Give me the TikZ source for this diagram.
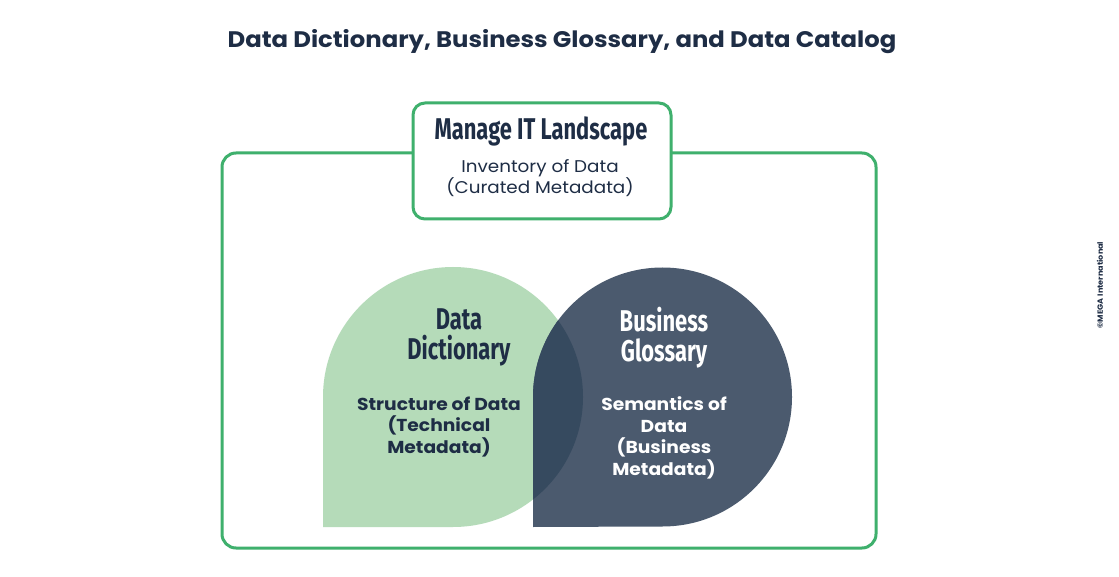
\documentclass[tikz,border=0pt]{standalone}
\usepackage{fontspec}
\setmainfont[FakeStretch=1.08]{Poppins}
\newfontfamily\headfont[FakeStretch=0.73]{Fira Sans}
\begin{document}
\begin{tikzpicture}[x=1pt,y=-1pt,
  navy/.style={text=textnavy},
  frame/.style={draw=framegreen,line width=3pt,rounded corners=14pt},
  head/.style={font=\headfont\fontsize{30}{30}\selectfont\bfseries,align=center},
  body/.style={font=\fontsize{17}{21.5}\selectfont,align=center},
  bodyb/.style={font=\fontsize{17.3}{21.5}\selectfont\bfseries,align=center}]
\definecolor{framegreen}{HTML}{3FB06D}
\definecolor{lightgreen}{HTML}{B5DBB9}
\definecolor{darkslate}{HTML}{4B5A6E}
\definecolor{overlapc}{HTML}{364A5F}
\definecolor{textnavy}{HTML}{1E2D45}
\useasboundingbox (0,0) rectangle (1119,577);
\fill[white] (0,0) rectangle (1119,577);
% title
\node[navy,font=\fontsize{22.5}{24}\selectfont\bfseries] (title) at (562,42) {Data Dictionary, Business Glossary, and Data Catalog};
% outer frame
\draw[frame] (222,153) rectangle (876,548);
% shapes
\fill[lightgreen] (323,397) arc[start angle=180,end angle=450,radius=130] -- (323,527) -- cycle;
\fill[darkslate] (533,397) arc[start angle=180,end angle=450,radius=129.5] -- (533,527) -- cycle;
\begin{scope}
\clip (323,397) arc[start angle=180,end angle=450,radius=130] -- (323,527) -- cycle;
\fill[overlapc] (533,397) arc[start angle=180,end angle=450,radius=129.5] -- (533,527) -- cycle;
\end{scope}
% top box
\draw[frame,rounded corners=12pt,fill=white] (413,103) rectangle (671,219);
\node[navy,head] (mit) at (541,131) {Manage IT Landscape};
\node[navy,body] (inv) at (540,178) {Inventory of Data\\(Curated Metadata)};
% data dictionary
\node[navy,head] (dd) at (459,337.5) {Data\\Dictionary};
\node[navy,bodyb] (dds) at (439,427) {Structure of Data\\(Technical\\Metadata)};
% business glossary
\node[head,text=white] (bg) at (664,337.5) {Business\\Glossary};
\node[bodyb,text=white] (bgs) at (664,438) {Semantics of\\Data\\(Business\\Metadata)};
% copyright
\node[navy,rotate=90,font=\fontsize{7.5}{8}\selectfont\bfseries] (copy) at (1100,285) {©MEGA International};
\end{tikzpicture}
\end{document}
